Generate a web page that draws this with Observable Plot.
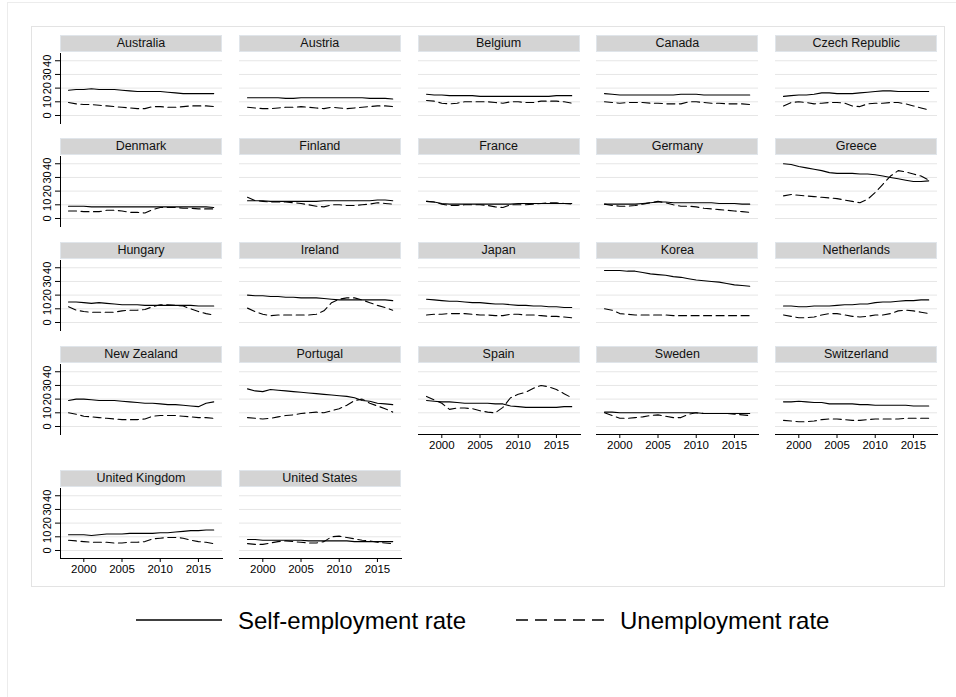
<!DOCTYPE html>
<html>
<head>
<meta charset="utf-8">
<script src="https://cdn.jsdelivr.net/npm/d3@7"></script>
<script src="https://cdn.jsdelivr.net/npm/@observablehq/plot@0.6"></script>
<style>
html, body { margin: 0; padding: 0; background: #fff; }
#chart { position: relative; width: 956px; height: 697px; overflow: hidden; background: #fff;
  font-family: "Liberation Sans", Arial, Helvetica, sans-serif; color: #000; }
.frame-outer { position: absolute; left: 7px; top: 2px; width: 960px; height: 710px; border: 1px solid #ececec; box-sizing: border-box; }
.frame-inner { position: absolute; left: 31px; top: 26px; width: 914px; height: 561px; border: 1px solid #e3e3e3; box-sizing: border-box; }
.strip { position: absolute; height: 17px; width: 162px; background: #d4d4d4; border: 1px solid #e0e5ea;
  box-sizing: border-box; text-align: center; font-size: 12.5px; line-height: 15px; color: #111; white-space: nowrap; }
.panel { position: absolute; }
.panel svg { display: block; overflow: visible; }
</style>
</head>
<body>
<div id="chart">
  <div class="frame-outer"></div>
  <div class="frame-inner"></div>
</div>
<script>
// ---- data ----
const years = [1998,1999,2000,2001,2002,2003,2004,2005,2006,2007,2008,2009,2010,2011,2012,2013,2014,2015,2016,2017];
const countries = ["Australia","Austria","Belgium","Canada","Czech Republic","Denmark","Finland","France","Germany","Greece","Hungary","Ireland","Japan","Korea","Netherlands","New Zealand","Portugal","Spain","Sweden","Switzerland","United Kingdom","United States"];
const selfEmployment = [
  [18.5,19,19,19.5,19,19,19,18.5,18,17.5,17.5,17.5,17.5,17,16.5,16,16,16,16,16],
  [13,13,13,13,13,12.5,12.5,13,13,13,13,13,13,13,13,13,12.5,12.5,12.5,12],
  [15.5,15,15,14.5,14.5,14.5,14.5,14,14,14,14,14,14,14,14,14,14,14.5,14.5,14.5],
  [16,15.5,15,15,15,15,15,15,15,15,15.5,15.5,15.5,15,15,15,15,15,15,15],
  [14,14.5,15,15,15.5,16.5,16.5,16,16,16,16.5,17,17.5,18,18,17.5,17.5,17.5,17.5,17.5],
  [9,9,9,8.5,8.5,8.5,8.5,8.5,8.5,8.5,8.5,8.5,8.5,8.5,8.5,8.5,8.5,8.5,8.5,8],
  [13,13,13,12.5,12.5,12.5,12.5,12.5,12.5,12.5,13,13,13,13,13,13,13,13.5,13.5,13],
  [12.5,12,11,10.5,10.5,10.5,10.5,10.5,10.5,10.5,10.5,10.5,11,11,11,11,11,11,11,11],
  [10.5,10.5,10.5,10.5,10.5,11,11.5,12,12,11.5,11.5,11.5,11.5,11.5,11.5,11,11,11,10.5,10.5],
  [40,39.5,38,37,36,35,33.5,33,33,33,32.5,32.5,32,31,30,29,28,27,27,27.5],
  [15,15,14.5,14,14.5,14,13.5,13,13,13,12.5,12.5,12.5,12.5,12.5,12.5,12.5,12,12,12],
  [20,19.5,19.5,19,19,18.5,18.5,18,18,18,17.5,17,16.5,16.5,16.5,16.5,16.5,16.5,16.5,16],
  [17,16.5,16,15.5,15.5,15,14.5,14.5,14,13.5,13.5,13,12.5,12.5,12,12,11.5,11.5,11,11],
  [38,38,38,37.5,37.5,36.5,35.5,35,34.5,33.5,33,32,31,30.5,30,29.5,28.5,27.5,27,26.5],
  [12,12,11.5,11.5,12,12,12,12.5,13,13,13.5,13.5,14.5,15,15,15.5,16,16,16.5,16.5],
  [19,20,20,19.5,19,19,19,18.5,18,17.5,17,17,16.5,16,16,15.5,15,14.5,17,18],
  [27.5,26,25.5,27,26.5,26,25.5,25,24.5,24,23.5,23,22.5,22,21,19,18.5,17,16.5,16],
  [19,18.5,18,18,17.5,17,17,17,17,16.5,16.5,15,14.5,14,14,14,14,14,14.5,14.5],
  [10.5,10.5,10,10,10,10,10,10,10,10,10,10,10,9.5,9.5,9.5,9.5,9.5,9.5,9.5],
  [18,18,18.5,18,17.5,17.5,16.5,16.5,16.5,16.5,16,16,15.5,15.5,15.5,15.5,15.5,15,15,15],
  [11.5,11.5,11.5,11,11.5,12,12,12,12.5,12.5,12.5,12.5,13,13,13.5,14,14.5,14.5,15,15],
  [8,8,7.5,7.5,7.5,7.5,7.5,7.5,7,7,7,7,7,7,6.5,6.5,6.5,6.5,6.5,6.5]
];
const unemployment = [
  [9.5,8.5,8,8,7.5,7,6.5,6,5.5,5,5,6.5,6.5,6,6,6.5,7,7,7,6.5],
  [6,5.5,5,5,5.5,6,6,6.5,6,5.5,5,6,5.5,5,5.5,6,6.5,7,7,6.5],
  [11,10.5,9,8.5,9,10,10,10,10,9.5,9,10,10,9.5,9.5,10.5,10.5,10.5,10,9],
  [10,9.5,9,9.5,9.5,9.5,9,9,8.5,8.5,8.5,10,10,9.5,9,9,8.5,8.5,8.5,8],
  [7,9.5,10,9.5,8.5,9,9.5,9.5,9,7,6.5,8.5,9,9,9.5,9.5,8.5,7,5.5,4],
  [5.5,5.5,5,5,5,6,6,5.5,4.5,4.5,4,6.5,8,8,8,7.5,7.5,7,7,7],
  [15.5,13,12.5,12,12,12,11.5,11,10,9,8.5,10,10,9.5,9.5,10,10.5,11.5,11,10.5],
  [12.5,12,10.5,9.5,9.5,10,10,10,9.5,8.5,8,10,10,10,10.5,11,11.5,11.5,11,10.5],
  [10.5,9.5,9,9,9.5,10.5,11.5,12.5,11.5,10,9,9,8.5,7.5,7,6.5,6,5.5,5,4.5],
  [16.5,17.5,17,16.5,16,15.5,15,14.5,13.5,12.5,11.5,14,19,25,31,35,34,32.5,31,28],
  [11.5,9,8,7.5,7.5,7.5,7.5,8.5,9,9,9.5,11.5,13,13,12.5,12,10,8,6.5,5.5],
  [10.5,8,6,5,5.5,5.5,5.5,5.5,5.5,6,8.5,14.5,17,18,18,16.5,14.5,12.5,11,9],
  [5.5,6,6,6.5,6.5,6.5,6,5.5,5.5,5,5,6,6,5.5,5.5,5,4.5,4.5,4,3.5],
  [10,9,6.5,6,5.5,5.5,5.5,5.5,5.5,5,5,5,5,5,5,5,5,5,5,5],
  [5.5,4.5,3.5,3.5,4,5.5,6.5,6.5,5.5,4.5,4,4.5,5.5,5.5,6.5,8.5,9,8.5,7.5,6.5],
  [10,9,7.5,7,6.5,6,5.5,5,5,5,5.5,7.5,8,8,8,7.5,7,6.5,6.5,6],
  [6.5,6,5.5,6,7,8,8.5,9.5,10,10.5,10,11.5,13,15.5,19,20,17,15,13,10.5],
  [22,19.5,17,12.5,13.5,13.5,13,11.5,10.5,10,14,21,23.5,25,28,30,29,27,24,21],
  [10,8,6,6,6.5,7,8,8.5,7.5,6.5,6.5,9,10,9.5,9.5,9.5,9.5,9,8.5,8],
  [4.5,4,3.5,3.5,4,5,5.5,5.5,5,4.5,4.5,5,5.5,5.5,5.5,5.5,6,6,6,6],
  [7.5,7,6.5,6,6,6,5.5,5.5,6,6,6.5,8.5,9,9.5,9.5,9,7.5,6.5,6,5],
  [5,4.5,4.5,5.5,6.5,7,6.5,6,5.5,5.5,6.5,10,10.5,9.5,8.5,7.5,7,6,5.5,5]
];
const yTicks = [0, 10, 20, 30, 40];
const xTicks = [2000, 2005, 2010, 2015];
const seriesNames = ["Self-employment rate", "Unemployment rate"];

// ---- layout ----
const colLeft = [60, 238.8, 417.6, 596.4, 775.2];
const rowTop = [34.5, 138.3, 242.1, 345.9, 469.7];
const panelW = 162, plotH = 70, mLeft = 25, mRight = 3, mBottom = 24;
const dash = "8,4.5";

const chart = document.getElementById("chart");

countries.forEach((name, i) => {
  const col = i % 5, row = Math.floor(i / 5);
  const showY = col === 0;
  const showX = (row === 3 && col >= 2) || row === 4;
  const T = rowTop[row], L = colLeft[col];

  const strip = document.createElement("div");
  strip.className = "strip";
  strip.style.left = L + "px";
  strip.style.top = T + "px";
  strip.textContent = name;
  chart.appendChild(strip);

  const data = years.map((year, j) => ({year, self: selfEmployment[i][j], unemp: unemployment[i][j]}));

  const marks = [
    Plot.ruleY(yTicks, {stroke: "#e6e6e6", strokeWidth: 1}),
    Plot.line(data, {x: "year", y: "self", stroke: "#000", strokeWidth: 1.1}),
    Plot.line(data, {x: "year", y: "unemp", stroke: "#000", strokeWidth: 1.1, strokeDasharray: dash})
  ];
  if (showY) {
    marks.push(Plot.frame({anchor: "left", stroke: "#000", strokeWidth: 1}));
    marks.push(Plot.axisY({ticks: yTicks, tickSize: 5, tickPadding: 5, tickRotate: -90, label: null, fontSize: 11, stroke: "#000"}));
  }
  if (showX) {
    marks.push(Plot.frame({anchor: "bottom", stroke: "#000", strokeWidth: 1}));
    marks.push(Plot.axisX({ticks: xTicks, tickSize: 4, tickPadding: 2, tickFormat: d => String(d), label: null, fontSize: 11.5, stroke: "#000"}));
  }

  const svg = Plot.plot({
    width: mLeft + panelW + mRight,
    height: plotH + mBottom,
    marginLeft: mLeft, marginRight: mRight, marginTop: 0, marginBottom: mBottom,
    x: {domain: [1996.95, 2018.15], axis: null},
    y: {domain: [-5.85, 45.3], axis: null},
    style: {background: "transparent", fontFamily: '"Liberation Sans", Arial, sans-serif', fontSize: "11px", color: "#000", overflow: "visible"},
    marks
  });
  const wrap = document.createElement("div");
  wrap.className = "panel";
  wrap.style.left = (L - mLeft) + "px";
  wrap.style.top = (T + 18) + "px";
  wrap.appendChild(svg);
  chart.appendChild(wrap);
});

// ---- legend ----
const NS = "http://www.w3.org/2000/svg";
const leg = document.createElementNS(NS, "svg");
leg.setAttribute("width", 956);
leg.setAttribute("height", 50);
leg.style.position = "absolute";
leg.style.left = "0px";
leg.style.top = "595px";
const legItems = [
  {x1: 136, x2: 222, tx: 238, dash: null, label: seriesNames[0]},
  {x1: 516, x2: 604, tx: 620, dash: "12,7", label: seriesNames[1]}
];
legItems.forEach(it => {
  const ln = document.createElementNS(NS, "line");
  ln.setAttribute("x1", it.x1); ln.setAttribute("x2", it.x2);
  ln.setAttribute("y1", 25); ln.setAttribute("y2", 25);
  ln.setAttribute("stroke", "#000"); ln.setAttribute("stroke-width", 1.6);
  if (it.dash) ln.setAttribute("stroke-dasharray", it.dash);
  leg.appendChild(ln);
  const tx = document.createElementNS(NS, "text");
  tx.setAttribute("x", it.tx); tx.setAttribute("y", 33.5);
  tx.setAttribute("font-size", 24);
  tx.setAttribute("font-family", '"Liberation Sans", Arial, sans-serif');
  tx.setAttribute("fill", "#000");
  tx.textContent = it.label;
  leg.appendChild(tx);
});
chart.appendChild(leg);
</script>
</body>
</html>
